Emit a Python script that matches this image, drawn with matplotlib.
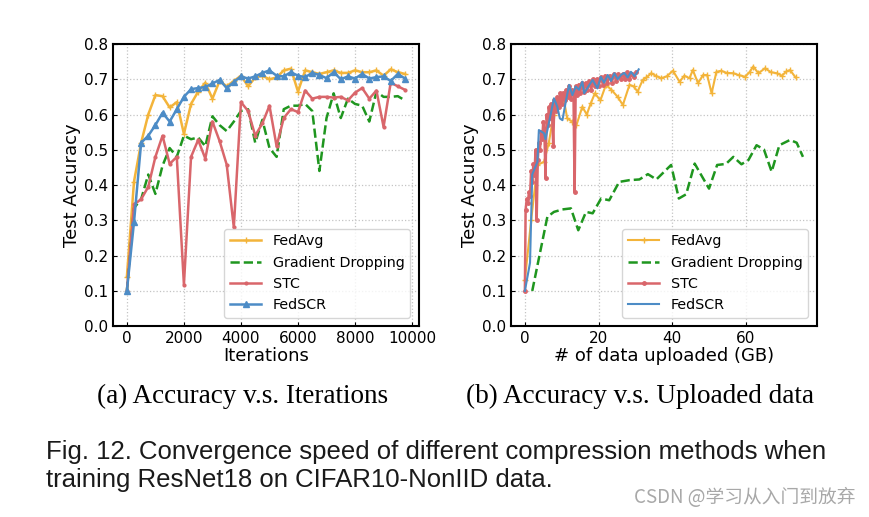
import matplotlib
matplotlib.use("Agg")
import matplotlib.pyplot as plt

# (a) accuracy vs iterations, one point every 250 iterations
iterations = list(range(0, 10000, 250))
fedavg_it = [0.14, 0.41, 0.52, 0.60, 0.655, 0.652, 0.62, 0.635, 0.545, 0.63,
             0.665, 0.69, 0.645, 0.695, 0.68, 0.695, 0.71, 0.68, 0.705, 0.71,
             0.70, 0.705, 0.725, 0.73, 0.665, 0.725, 0.72, 0.715, 0.72, 0.725,
             0.718, 0.718, 0.725, 0.72, 0.72, 0.725, 0.71, 0.728, 0.72, 0.715]
gd_it = [0.10, 0.335, 0.36, 0.43, 0.375, 0.455, 0.505, 0.48, 0.54, 0.53,
         0.535, 0.51, 0.595, 0.57, 0.553, 0.58, 0.61, 0.615, 0.52, 0.585,
         0.505, 0.48, 0.615, 0.625, 0.625, 0.63, 0.61, 0.44, 0.59, 0.66,
         0.59, 0.645, 0.63, 0.625, 0.58, 0.665, 0.65, 0.65, 0.652, 0.64]
stc_it = [0.10, 0.345, 0.36, 0.395, 0.48, 0.54, 0.46, 0.48, 0.118, 0.48,
          0.528, 0.475, 0.58, 0.525, 0.458, 0.28, 0.635, 0.61, 0.54, 0.575,
          0.625, 0.51, 0.59, 0.615, 0.607, 0.668, 0.645, 0.65, 0.65, 0.648,
          0.65, 0.64, 0.662, 0.675, 0.645, 0.668, 0.565, 0.69, 0.68, 0.67]
fedscr_it = [0.10, 0.295, 0.52, 0.54, 0.57, 0.605, 0.58, 0.615, 0.65, 0.672,
             0.675, 0.678, 0.688, 0.698, 0.675, 0.692, 0.708, 0.702, 0.708, 0.718,
             0.725, 0.71, 0.708, 0.72, 0.71, 0.706, 0.718, 0.712, 0.703, 0.72,
             0.70, 0.708, 0.702, 0.715, 0.702, 0.706, 0.708, 0.695, 0.715, 0.702]

# (b) accuracy vs uploaded data (GB)
fedavg_gb = [0, 1.7, 3.4, 5.2, 6.5, 7.8, 9.2, 10.6, 11.5, 12.8, 14.0, 15.6, 16.8,
             17.9, 19.0, 20.5, 22.0, 23.5, 25.2, 26.6, 28.4, 29.5, 30.6, 32.0,
             33.0, 34.3, 35.5, 37.0, 38.5, 40.2, 42.0, 43.3, 44.7, 45.6, 47.0,
             48.4, 49.5, 50.7, 52.0, 53.3, 54.8, 56.6, 58.0, 59.8, 61.0, 62.0,
             63.4, 65.2, 66.8, 68.4, 69.8, 71.0, 72.0, 73.5]
fedavg_acc = [0.13, 0.30, 0.457, 0.466, 0.52, 0.60, 0.63, 0.641, 0.589, 0.58,
              0.570, 0.622, 0.60, 0.632, 0.66, 0.64, 0.684, 0.67, 0.65, 0.627,
              0.684, 0.68, 0.665, 0.698, 0.705, 0.717, 0.71, 0.703, 0.708, 0.724,
              0.693, 0.71, 0.703, 0.726, 0.689, 0.712, 0.712, 0.66, 0.721, 0.724,
              0.718, 0.717, 0.712, 0.707, 0.72, 0.736, 0.717, 0.731, 0.72, 0.717,
              0.71, 0.722, 0.726, 0.705]
gd_gb = [2.0, 6.1, 7.9, 10.2, 12.5, 14.5, 16.6, 18.4, 20.7, 22.9, 25.6, 28.4,
         31.1, 33.4, 35.7, 39.7, 41.8, 43.8, 46.1, 47.9, 50.0, 52.2, 54.6, 56.6,
         58.8, 60.7, 62.9, 64.9, 67.0, 69.1, 72.0, 73.8, 75.5]
gd_acc = [0.10, 0.31, 0.324, 0.331, 0.334, 0.272, 0.324, 0.32, 0.362, 0.357,
          0.409, 0.414, 0.416, 0.431, 0.416, 0.457, 0.362, 0.374, 0.461, 0.428,
          0.39, 0.457, 0.46, 0.48, 0.459, 0.471, 0.513, 0.501, 0.438, 0.513,
          0.528, 0.52, 0.48]
stc_gb = [0.0, 0.2, 0.5, 0.8, 1.1, 1.4, 1.7, 2.0, 2.3, 2.6, 2.9, 3.2, 3.5, 3.8,
          4.1, 4.4, 4.7, 5.0, 5.3, 5.6, 5.9, 6.2, 6.5, 6.8, 7.1, 7.4, 7.7, 8.0,
          8.4, 8.8, 9.2, 9.6, 10.0, 10.4, 10.8, 11.2, 11.6, 12.0, 12.4, 12.8,
          13.2, 13.5, 13.8, 14.2, 14.6, 15.0, 15.5, 16.0, 16.5, 17.0, 17.5,
          18.0, 18.5, 19.0, 19.5, 20.0, 20.6, 21.2, 21.8, 22.4, 23.0, 23.6,
          24.2, 24.8, 25.4, 26.0, 26.6, 27.2, 27.8, 28.4, 29.0, 29.6, 30.2]
stc_acc = [0.10, 0.33, 0.36, 0.35, 0.38, 0.37, 0.44, 0.41, 0.46, 0.43, 0.50,
           0.30, 0.47, 0.52, 0.50, 0.55, 0.53, 0.58, 0.55, 0.42, 0.60, 0.57,
           0.62, 0.59, 0.63, 0.60, 0.51, 0.64, 0.61, 0.65, 0.62, 0.66, 0.63,
           0.66, 0.64, 0.67, 0.65, 0.68, 0.645, 0.67, 0.66, 0.38, 0.68, 0.655,
           0.685, 0.66, 0.69, 0.665, 0.69, 0.67, 0.695, 0.67, 0.70, 0.68, 0.70,
           0.68, 0.705, 0.685, 0.71, 0.69, 0.71, 0.69, 0.715, 0.695, 0.715,
           0.70, 0.715, 0.70, 0.72, 0.70, 0.715, 0.705, 0.72]
fedscr_gb = [0, 1.4, 2.0, 3.4, 3.8, 5.2, 5.6, 6.5, 7.9, 8.8, 9.5, 10.2, 11.1,
             12.0, 12.9, 13.8, 14.7, 15.6, 16.1, 17.5, 18.4, 19.7, 20.6, 21.5,
             22.5, 23.4, 24.3, 25.2, 26.1, 27.0, 27.9, 28.8, 29.8, 30.9]
fedscr_acc = [0.10, 0.18, 0.43, 0.466, 0.556, 0.547, 0.53, 0.575, 0.646, 0.622,
              0.589, 0.584, 0.636, 0.684, 0.655, 0.679, 0.67, 0.693, 0.66, 0.684,
              0.698, 0.674, 0.707, 0.69, 0.712, 0.695, 0.717, 0.70, 0.712, 0.718,
              0.705, 0.721, 0.708, 0.728]

c_avg = "#F3B43A"
c_gd = "#1F961F"
c_stc = "#D9666B"
c_scr = "#4D8CC6"

fig = plt.figure(figsize=(8.69, 5.17), dpi=100)
ax1 = fig.add_axes([0.130, 0.369, 0.352, 0.546])
ax2 = fig.add_axes([0.588, 0.369, 0.352, 0.546])

ax1.plot(iterations, fedavg_it, color=c_avg, lw=1.8, marker="+", ms=5, label="FedAvg")
ax1.plot(iterations, gd_it, color=c_gd, lw=1.8, ls="--", label="Gradient Dropping")
ax1.plot(iterations, stc_it, color=c_stc, lw=1.8, marker=".", ms=4, label="STC")
ax1.plot(iterations, fedscr_it, color=c_scr, lw=1.8, marker="^", ms=5, label="FedSCR")
ax1.set_xlabel("Iterations", fontsize=13, labelpad=1)
ax1.set_xticks([0, 2000, 4000, 6000, 8000, 10000])

ax2.plot(fedavg_gb, fedavg_acc, color=c_avg, lw=1.5, marker="+", ms=4, label="FedAvg")
ax2.plot(gd_gb, gd_acc, color=c_gd, lw=1.8, ls="--", label="Gradient Dropping")
ax2.plot(stc_gb, stc_acc, color=c_stc, lw=1.8, marker=".", ms=5, label="STC")
ax2.plot(fedscr_gb, fedscr_acc, color=c_scr, lw=1.5, label="FedSCR")
ax2.set_xlabel("# of data uploaded (GB)", fontsize=13, labelpad=1)
ax2.set_xticks([0, 20, 40, 60])

for ax in (ax1, ax2):
    ax.set_ylim(0, 0.8)
    ax.set_yticks([0.0, 0.1, 0.2, 0.3, 0.4, 0.5, 0.6, 0.7, 0.8])
    ax.set_ylabel("Test Accuracy", fontsize=13, labelpad=2)
    ax.grid(True, ls=":", color="#C4C4C4", lw=0.9)
    ax.tick_params(direction="in", labelsize=11, length=3)
    for s in ax.spines.values():
        s.set_linewidth(1.5)
    ax.legend(loc="lower right", fontsize=10.3, handlelength=2.2,
              handletextpad=0.8, borderaxespad=0.6, fancybox=True)

fig.text(0.279, 0.234, "(a) Accuracy v.s. Iterations", family="Liberation Serif",
         fontsize=19.5, ha="center", va="center")
fig.text(0.736, 0.234, "(b) Accuracy v.s. Uploaded data", family="Liberation Serif",
         fontsize=19.5, ha="center", va="center")
fig.text(0.053, 0.126, "Fig. 12. Convergence speed of different compression methods when",
         family="Liberation Sans", fontsize=18.5, ha="left", va="center", color="#1A1A1A")
fig.text(0.053, 0.072, "training ResNet18 on CIFAR10-NonIID data.",
         family="Liberation Sans", fontsize=18.5, ha="left", va="center", color="#1A1A1A")
fig.text(0.984, 0.038, "CSDN @学习从入门到放弃", family=["Noto Sans CJK SC", "DejaVu Sans"],
         fontsize=13.5, ha="right", va="center", color="#A8A8A8")

fig.savefig("out.png", dpi=100)
